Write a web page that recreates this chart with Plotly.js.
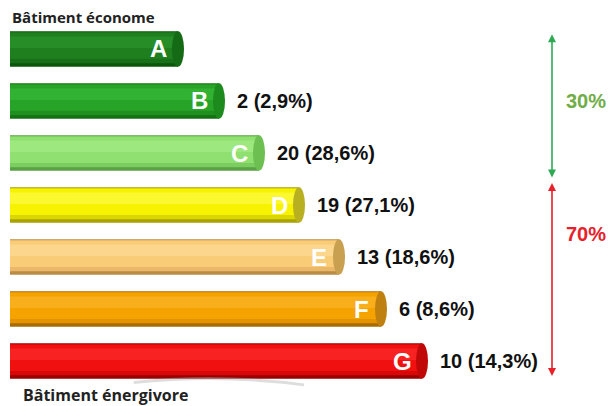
<!DOCTYPE html>
<html><head><meta charset="utf-8">
<script src="https://cdn.plot.ly/plotly-3.0.1.min.js"></script>
<style>html,body{margin:0;padding:0;background:#fff}#chart{width:608px;height:406px}</style>
</head><body><div id="chart"></div>
<script>
// ---- data ----
const classes = ['A','B','C','D','E','F','G'];
const barLength = [174, 215, 255, 295, 335, 377, 418];   // drawn length of each label bar
const counts = [null, 2, 20, 19, 13, 6, 10];
const percents = [null, '2,9', '28,6', '27,1', '18,6', '8,6', '14,3'];
const groupLabels = ['30%', '70%'];
const groupFirst = ['A', 'D'];
const groupLast = ['C', 'G'];

// ---- styles ----
const darkCol = ['#0b560b','#137013','#5aa045','#a9a200','#b98c45','#a86c00','#9a0000'];
const midCol  = ['#187018','#1f8f1f','#7acd5e','#dcd600','#eab868','#e49400','#d80808'];
const mainCol = ['#1f7f1f','#27a327','#8fe070','#f7f200','#f9cd78','#f5a300','#f01010'];
const hiCol   = ['#278d27','#32b232','#9de87f','#fbf830','#fbd68c','#f9ae1c','#f82222'];
const capCol  = ['#156a15','#1c8a1c','#6cbf50','#b8b020','#c9a050','#c08010','#c00808'];
const groupCol = ['#2eaa55', '#e8202a'];
const groupTextCol = ['#70ad47', '#e8202a'];

const capHalf = 6;
const idx = classes.map((c, i) => i);
const bodyLen = barLength.map(v => v - capHalf);
const H = 0.68;

function barTrace(color, offset, width) {
  return {
    type: 'bar', orientation: 'h', y: idx, x: bodyLen, base: 0,
    offset: offset, width: width,
    marker: {color: color, line: {width: 0}},
    hoverinfo: 'skip', showlegend: false
  };
}
const traces = [
  barTrace(darkCol, -H/2, H),
  barTrace(midCol, -H/2 + 0.015, H - 0.08),
  barTrace(mainCol, -H/2 + 0.03, H - 0.18),
  barTrace(hiCol, -H/2 + 0.1, 0.22)
];

const shapes = idx.map(i => ({
  type: 'circle', xref: 'x', yref: 'y',
  x0: bodyLen[i] - capHalf, x1: bodyLen[i] + capHalf,
  y0: i - H/2, y1: i + H/2,
  fillcolor: capCol[i], line: {width: 0}
}));
// faint reflection under the last bar
shapes.push({type: 'path', xref: 'paper', yref: 'paper',
  path: 'M 0.22,0.058 Q 0.36,0.08 0.5,0.052',
  line: {color: 'rgba(170,170,170,0.4)', width: 3}});

const annotations = [];
idx.forEach(i => {
  annotations.push({
    x: barLength[i] - 26, y: i, xref: 'x', yref: 'y', text: classes[i],
    showarrow: false, xanchor: 'center', yanchor: 'middle',
    font: {family: 'Liberation Sans, Arial', size: 24, color: '#ffffff', weight: 'bold'}
  });
  if (counts[i] !== null) {
    annotations.push({
      x: barLength[i] + 10, y: i, xref: 'x', yref: 'y',
      text: counts[i] + ' (' + percents[i] + '%)',
      showarrow: false, xanchor: 'left', yanchor: 'middle',
      font: {family: 'Liberation Sans, Arial', size: 20, color: '#111111', weight: 'bold'}
    });
  }
});
const labelPos = [1.0, 3.55];
groupLabels.forEach((g, k) => {
  const a = classes.indexOf(groupFirst[k]);
  const b = classes.indexOf(groupLast[k]);
  annotations.push({
    x: 542, y: b + (k === 0 ? 0.47 : 0.29), ax: 542, ay: a - (k === 0 ? 0.31 : 0.45),
    xref: 'x', yref: 'y', axref: 'x', ayref: 'y', text: '',
    showarrow: true, arrowside: 'end+start', arrowhead: 2, startarrowhead: 2,
    arrowsize: 1, startarrowsize: 1, arrowwidth: 1.6, arrowcolor: groupCol[k]
  });
  annotations.push({
    x: 554, y: labelPos[k], xref: 'x', yref: 'y', text: g,
    showarrow: false, xanchor: 'left', yanchor: 'middle',
    font: {family: 'Liberation Sans, Arial', size: 20, color: groupTextCol[k], weight: 'bold'}
  });
});
annotations.push({
  x: 0.016, y: 0.958, xref: 'paper', yref: 'paper', text: 'Bâtiment économe',
  showarrow: false, xanchor: 'left', yanchor: 'middle',
  font: {family: 'Open Sans', size: 15, color: '#222222', weight: 'bold'}
});
annotations.push({
  x: 0.035, y: 0.027, xref: 'paper', yref: 'paper', text: 'Bâtiment énergivore',
  showarrow: false, xanchor: 'left', yanchor: 'middle',
  font: {family: 'Open Sans', size: 16, color: '#222222', weight: 'bold'}
});

const layout = {
  width: 608, height: 406,
  margin: {l: 0, r: 0, t: 0, b: 0, pad: 0},
  paper_bgcolor: '#ffffff', plot_bgcolor: '#ffffff',
  barmode: 'overlay',
  xaxis: {range: [-10, 598], visible: false, fixedrange: true},
  yaxis: {range: [6.865, -0.942], visible: false, fixedrange: true},
  shapes: shapes, annotations: annotations, showlegend: false
};
Plotly.newPlot('chart', traces, layout, {staticPlot: true, displayModeBar: false});
</script></body></html>
